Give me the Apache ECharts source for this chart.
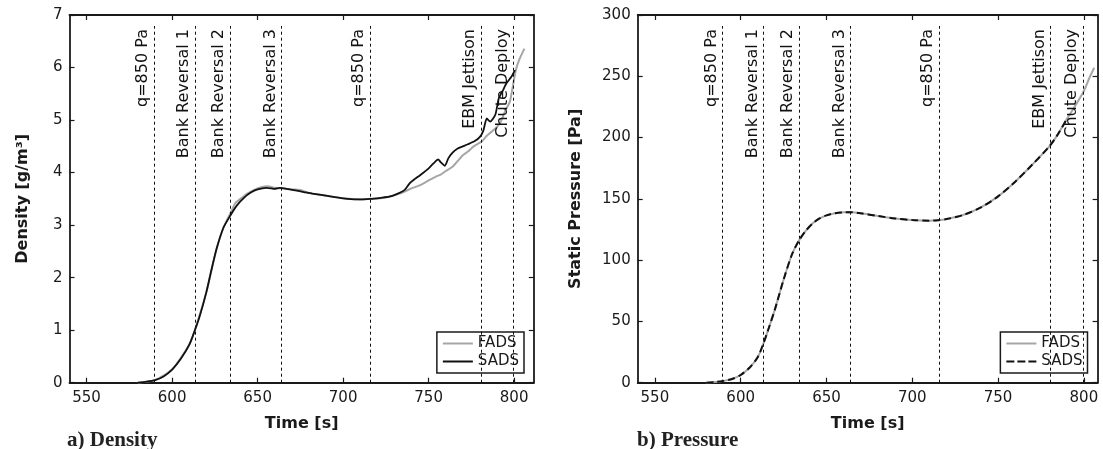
<!DOCTYPE html>
<html><head><meta charset="utf-8">
<script src="https://cdn.jsdelivr.net/npm/echarts@6/dist/echarts.min.js"></script>
<style>
html,body{margin:0;padding:0;background:#fff;}
#c1{position:absolute;left:0;top:0;width:551px;height:449px;}
#c2{position:absolute;left:551px;top:0;width:552px;height:449px;}
</style>
</head><body><div id="c1"></div><div id="c2"></div>
<script>
// ---------- data ----------
const xTicks = [550, 600, 650, 700, 750, 800];
const eventTimes = [589.5, 613.3, 634, 664, 715.7, 780.6, 799.6];
const eventNames = ['q=850 Pa', 'Bank Reversal 1', 'Bank Reversal 2', 'Bank Reversal 3', 'q=850 Pa', 'EBM Jettison', 'Chute Deploy'];

const densSadsT = [580,585,590,595,600,605,610,613,616,620,623,626,630,634,638,642,646,650,655,658,660,663,667,672,677,682,690,700,708,716,722,727,732,736,739,742,745,750,753,755.6,757,759.5,761.5,764,767,770,773,777,780,782,784,786,789,791,793.5,795.5,798.5,800.5];
const densSadsV = [0,0.02,0.05,0.12,0.25,0.45,0.72,0.97,1.25,1.72,2.15,2.55,2.95,3.18,3.38,3.52,3.62,3.68,3.71,3.70,3.69,3.71,3.69,3.66,3.63,3.60,3.56,3.51,3.49,3.50,3.52,3.54,3.60,3.67,3.80,3.88,3.95,4.08,4.18,4.25,4.20,4.13,4.27,4.38,4.46,4.50,4.54,4.60,4.68,4.80,5.03,4.97,5.10,5.41,5.57,5.70,5.83,5.95];

const densFadsT = [580,590,600,610,613,620,626,630,634,637,640,644,648,652,656,660,665,670,675,680,690,700,710,716,722,728,732,736,740,745,750,754,757,760,764,767,770,773,776,779,781,784,788,791.7,794.6,797.5,799,801,803,806];
const densFadsV = [0,0.05,0.25,0.72,0.97,1.72,2.55,2.95,3.22,3.42,3.50,3.60,3.67,3.72,3.74,3.71,3.70,3.68,3.67,3.61,3.56,3.51,3.49,3.50,3.51,3.55,3.59,3.64,3.70,3.76,3.85,3.92,3.96,4.03,4.11,4.22,4.33,4.40,4.49,4.55,4.59,4.70,4.81,4.94,5.16,5.35,5.60,5.95,6.15,6.36];

const presFadsT = [580,585,590,595,600,605,610,613,616,620,625,630,634,638,642,646,650,655,660,665,670,680,690,700,710,715,720,730,740,750,760,770,780,785,790,795,800,803,806];
const presFadsV = [0,0.5,1.5,3,6.3,12,21,31,43,60,84,105,116,124,130,134,136.5,138.3,139,139,138.2,136,134,132.7,132.2,132.5,133.5,137,143,152,164,178,193,203,215,226,238,248,257];

const presSadsT = [580,585,590,595,600,605,610,613,616,620,625,630,634,638,642,646,650,655,660,665,670,680,690,700,710,715,720,730,740,750,760,770,780,785,790];
const presSadsV = [0,0.5,1.5,3,6.3,12,21,31,43,60,84,105,116,124,130,134,136.5,138.3,139,139,138.2,136,134,132.7,132.2,132.5,133.5,137,143,152,164,178,193,203,215];

// ---------- helpers ----------
const FONT = '"DejaVu Sans", sans-serif';
const INK = '#1a1a1a';
const FADS_COLOR = '#a6a6a6';
const SADS_COLOR = '#111111';
const zip = (t, v) => t.map((x, i) => [x, v[i]]);

function xAxes(min, max) {
  const base = {
    type: 'value', min: min, max: max,
    axisLine: { show: true, onZero: false, lineStyle: { color: INK, width: 1.8 } },
    axisTick: { show: true, inside: true, length: 5, customValues: xTicks, lineStyle: { color: INK, width: 1.2 } },
    splitLine: { show: false }
  };
  return [
    Object.assign({}, base, {
      position: 'bottom',
      axisLabel: { show: true, customValues: xTicks, fontSize: 15, color: INK, fontFamily: FONT, margin: 8 },
      name: 'Time [s]', nameLocation: 'middle', nameGap: 33,
      nameTextStyle: { fontSize: 16, fontWeight: 'bold', color: INK, fontFamily: FONT }
    }),
    Object.assign({}, base, { position: 'top', axisLabel: { show: false } })
  ];
}
function yAxes(max, interval, name, gap) {
  const base = {
    type: 'value', min: 0, max: max, interval: interval,
    axisLine: { show: true, onZero: false, lineStyle: { color: INK, width: 1.8 } },
    axisTick: { show: true, inside: true, length: 5, lineStyle: { color: INK, width: 1.2 } },
    splitLine: { show: false }
  };
  return [
    Object.assign({}, base, {
      position: 'left',
      axisLabel: { show: true, fontSize: 15, color: INK, fontFamily: FONT, margin: 7 },
      name: name, nameLocation: 'middle', nameGap: gap,
      nameTextStyle: { fontSize: 16, fontWeight: 'bold', color: INK, fontFamily: FONT }
    }),
    Object.assign({}, base, { position: 'right', axisLabel: { show: false } })
  ];
}
function markLines(top) {
  return {
    silent: true, animation: false, symbol: ['none', 'none'],
    lineStyle: { type: [3, 3], color: '#111', width: 1 },
    label: { show: true, position: 'insideEndTop', distance: 3, formatter: '{b}', fontSize: 16, color: '#111', fontFamily: FONT },
    emphasis: { disabled: true },
    data: eventTimes.map((t, i) => [{ name: eventNames[i], coord: [t, 0] }, { coord: [t, top] }])
  };
}
function legend(right, sadsIcon) {
  return {
    orient: 'vertical', right: right, bottom: 76,
    itemWidth: 30, itemHeight: 2, itemGap: 3,
    padding: [4, 5, 4, 6],
    borderColor: INK, borderWidth: 1.5, borderRadius: 0, backgroundColor: '#fff',
    textStyle: { fontSize: 15, color: INK, fontFamily: FONT },
    selectedMode: false,
    data: [
      { name: 'FADS', icon: 'rect', itemStyle: { color: FADS_COLOR } },
      { name: 'SADS', icon: sadsIcon, itemStyle: { color: SADS_COLOR } }
    ]
  };
}

// ---------- density chart ----------
const c1 = echarts.init(document.getElementById('c1'), null, { renderer: 'canvas' });
c1.setOption({
  animation: false,
  backgroundColor: '#fff',
  grid: { left: 69.5, top: 15, width: 464.3, height: 367.7, outerBoundsMode: 'none', containLabel: false },
  xAxis: xAxes(540, 811.5),
  yAxis: yAxes(7, 1, 'Density [g/m³]', 39),
  legend: legend(27, 'rect'),
  series: [
    { name: 'FADS', type: 'line', data: zip(densFadsT, densFadsV), showSymbol: false, symbol: 'none', smooth: 0.2,
      lineStyle: { color: FADS_COLOR, width: 2 }, itemStyle: { color: FADS_COLOR }, z: 2 },
    { name: 'SADS', type: 'line', data: zip(densSadsT, densSadsV), showSymbol: false, symbol: 'none', smooth: 0.2,
      lineStyle: { color: SADS_COLOR, width: 1.8 }, itemStyle: { color: SADS_COLOR }, z: 3,
      markLine: markLines(6.79) }
  ],
  graphic: [{ type: 'text', left: 67, top: 430,
    style: { text: 'a) Density', font: 'bold 21px "Liberation Serif", serif', fill: '#222' } }]
});

// ---------- pressure chart ----------
const c2 = echarts.init(document.getElementById('c2'), null, { renderer: 'canvas' });
c2.setOption({
  animation: false,
  backgroundColor: '#fff',
  grid: { left: 86.7, top: 15, width: 459.9, height: 367.7, outerBoundsMode: 'none', containLabel: false },
  xAxis: xAxes(540, 808),
  yAxis: yAxes(300, 50, 'Static Pressure [Pa]', 54),
  legend: legend(15.5, 'path://M0 0h8v2h-8z M11 0h8v2h-8z M22 0h8v2h-8z'),
  series: [
    { name: 'FADS', type: 'line', data: zip(presFadsT, presFadsV), showSymbol: false, symbol: 'none', smooth: 0.3,
      lineStyle: { color: FADS_COLOR, width: 2 }, itemStyle: { color: FADS_COLOR }, z: 2 },
    { name: 'SADS', type: 'line', data: zip(presSadsT, presSadsV), showSymbol: false, symbol: 'none', smooth: 0.3,
      lineStyle: { color: SADS_COLOR, width: 2, type: [7, 4] }, itemStyle: { color: SADS_COLOR }, z: 3,
      markLine: markLines(291) }
  ],
  graphic: [{ type: 'text', left: 86, top: 430,
    style: { text: 'b) Pressure', font: 'bold 21px "Liberation Serif", serif', fill: '#222' } }]
});
</script>
</body></html>
